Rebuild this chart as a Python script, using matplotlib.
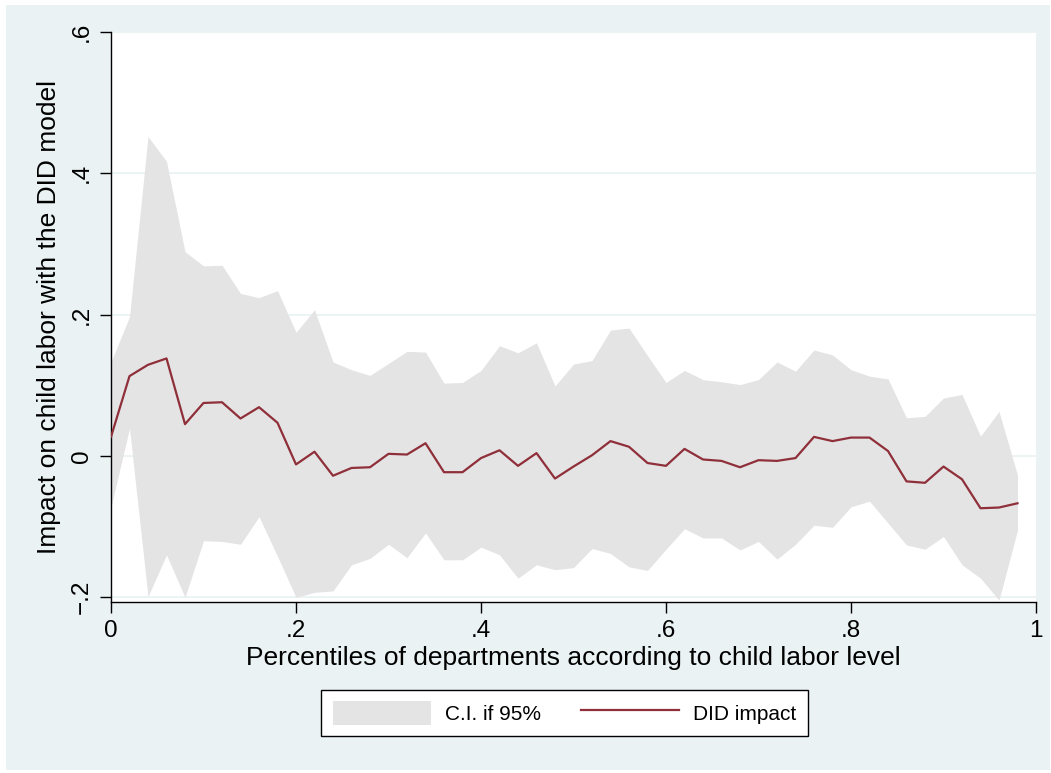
import numpy as np
import matplotlib.pyplot as plt
from matplotlib.patches import Rectangle, Patch
from matplotlib.lines import Line2D

plt.rcParams['font.family'] = ['Liberation Sans', 'DejaVu Sans']

# percentiles 0, .02, ..., .98
pctile = [i / 50 for i in range(50)]

did_impact = [0.027, 0.113, 0.129, 0.138, 0.045, 0.075, 0.076, 0.053, 0.069, 0.047,
              -0.012, 0.006, -0.028, -0.017, -0.016, 0.003, 0.002, 0.018, -0.023, -0.023,
              -0.003, 0.008, -0.014, 0.004, -0.032, -0.015, 0.001, 0.021, 0.013, -0.010,
              -0.014, 0.010, -0.005, -0.007, -0.016, -0.006, -0.007, -0.003, 0.027, 0.021,
              0.026, 0.026, 0.007, -0.036, -0.038, -0.015, -0.033, -0.074, -0.073, -0.067]

ci_upper = [0.133, 0.197, 0.452, 0.417, 0.289, 0.269, 0.270, 0.230, 0.224, 0.234,
            0.175, 0.207, 0.133, 0.122, 0.114, 0.131, 0.148, 0.147, 0.103, 0.104,
            0.121, 0.156, 0.146, 0.160, 0.099, 0.130, 0.135, 0.178, 0.181, 0.142,
            0.104, 0.121, 0.108, 0.105, 0.101, 0.108, 0.133, 0.120, 0.150, 0.143,
            0.122, 0.113, 0.109, 0.054, 0.056, 0.082, 0.087, 0.028, 0.063, -0.027]

ci_lower = [-0.072, 0.039, -0.199, -0.140, -0.200, -0.120, -0.121, -0.125, -0.086, -0.142,
            -0.200, -0.193, -0.191, -0.154, -0.145, -0.125, -0.144, -0.109, -0.147, -0.147,
            -0.129, -0.140, -0.173, -0.154, -0.161, -0.158, -0.131, -0.138, -0.157, -0.162,
            -0.132, -0.103, -0.116, -0.116, -0.133, -0.121, -0.146, -0.125, -0.098, -0.101,
            -0.072, -0.064, -0.095, -0.126, -0.132, -0.114, -0.154, -0.173, -0.204, -0.105]

yticks = [-0.2, 0, 0.2, 0.4, 0.6]
ytick_labels = ['\u2212.2', '0', '.2', '.4', '.6']
xticks = [0, 0.2, 0.4, 0.6, 0.8, 1]
xtick_labels = ['0', '.2', '.4', '.6', '.8', '1']

BG = '#EAF2F3'
BAND = '#E4E4E4'
LINE = '#8F2F3A'

W, H = 1051, 773
fig = plt.figure(figsize=(W / 100, H / 100), dpi=100, facecolor='white')
# graph region
fig.patches.append(Rectangle((6 / W, 3 / H), 1044 / W, 765 / H, transform=fig.transFigure,
                             facecolor=BG, edgecolor='none', zorder=-10))

ax = fig.add_axes([111 / W, 1 - 602 / H, 925 / W, 570 / H])
ax.set_facecolor('white')

ax.fill_between(pctile, ci_lower, ci_upper, color=BAND, linewidth=0, zorder=2)
ax.plot(pctile, did_impact, color=LINE, linewidth=1.6, zorder=3)

ax.set_xlim(0, 1)
ax.set_ylim(-0.2067, 0.6)
for y in yticks:
    ax.axhline(y, color=BG, linewidth=1.3, zorder=1)

ax.set_yticks(yticks)
ax.set_yticklabels(ytick_labels, rotation=90, va='center')
ax.set_xticks(xticks)
ax.set_xticklabels(xtick_labels)
ax.tick_params(axis='both', direction='out', length=8, width=1, labelsize=17.5,
               colors='black', pad=5)

for side in ['top', 'right']:
    ax.spines[side].set_visible(False)
for side in ['left', 'bottom']:
    ax.spines[side].set_linewidth(1)
    ax.spines[side].set_color('black')

ax.set_xlabel('Percentiles of departments according to child labor level', fontsize=19, labelpad=3)
ax.set_ylabel('Impact on child labor with the DID model', fontsize=19, labelpad=7)

handles = [Patch(facecolor=BAND, edgecolor='none'),
           Line2D([0], [0], color=LINE, linewidth=1.6)]
leg = fig.legend(handles, ['C.I. if 95%', 'DID impact'], loc='center',
                 bbox_to_anchor=(564.5 / W, 1 - 713 / H), ncol=2, fontsize=15,
                 frameon=True, fancybox=False, edgecolor='black', framealpha=1,
                 handlelength=4.7, handleheight=1.4, handletextpad=0.7,
                 columnspacing=1.9, borderpad=0.55)
leg.get_frame().set_linewidth(1)

fig.savefig('out.png', dpi=100, facecolor='white')
